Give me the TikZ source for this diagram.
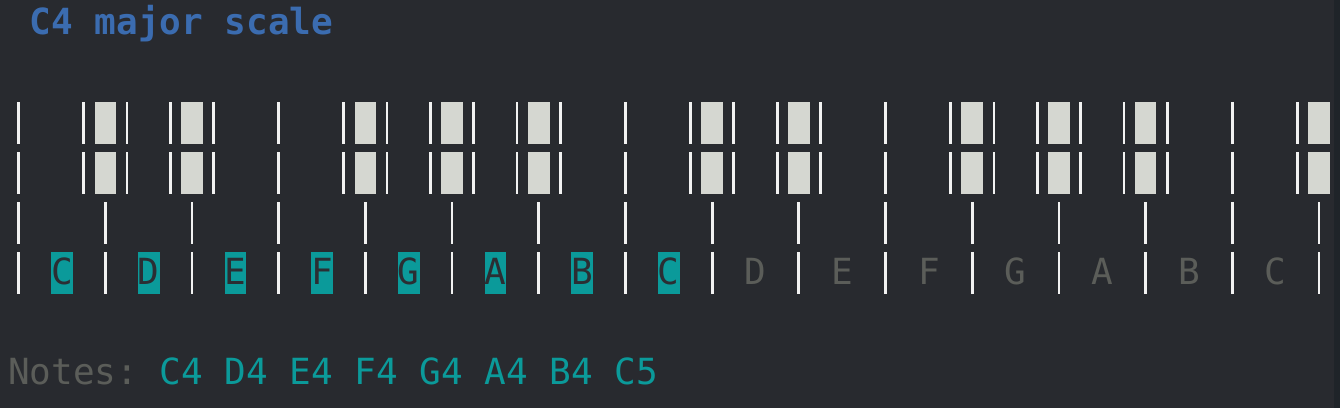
\documentclass[tikz,border=0pt]{standalone}
\usepackage{fontspec}
\setmonofont{DejaVu Sans Mono}
\definecolor{bg}{HTML}{282A2F}
\definecolor{edge}{HTML}{1F2429}
\definecolor{keyline}{HTML}{F2F2F2}
\definecolor{blackkey}{HTML}{D5D7D1}
\definecolor{hit}{HTML}{0B9A9A}
\definecolor{hittext}{HTML}{2B2E33}
\definecolor{dim}{HTML}{5B5D59}
\definecolor{titleblue}{HTML}{3B6CB0}
\tikzset{
	txt/.style={font=\ttfamily\fontsize{36}{36}\selectfont, inner sep=0},
	bar/.style={keyline, line width=2.7pt},
	on/.style={txt, fill=hit, text=hittext, minimum width=21.2pt, minimum height=42pt, text height=32pt, text depth=10pt, anchor=north},
	off/.style={txt, text=dim, text height=32pt, text depth=10pt, anchor=north}
}

\begin{document}
\begin{tikzpicture}[x=1pt,y=-1pt]
	\def\w{21.67}
	\def\o{18.7}
	\fill[bg] (0,0) rectangle (1340,408);
	\fill[edge] (1334,0) rectangle (1340,408);
	\node[txt, anchor=base west, text=titleblue, font=\ttfamily\bfseries\fontsize{36}{36}\selectfont] (title) at (29.5,34) {C4 major scale};
	% black keys, two rows
	\foreach \c in {0,3,5,7,9,12,15,17,19,21,23,25,28,31,33,35,37,40,43,45,47,49,51,53,56,59}
		\foreach \t in {102,152} \draw[bar] ({\o+\c*\w},\t) -- ++(0,42);
	\foreach \c in {4,8,16,20,24,32,36,44,48,52,60}
		\foreach \t in {102,152} \fill[blackkey] ({\o+\c*\w-\w/2},\t) rectangle ++(\w,42);
	% white keys
	\foreach \c in {0,4,...,60}
		\foreach \t in {202,252} \draw[bar] ({\o+\c*\w},\t) -- ++(0,42);
	\foreach \l [count=\i from 0] in {C,D,E,F,G,A,B,C}
		\node[on] (k\i) at ({\o+(2+4*\i)*\w},252) {\l};
	\foreach \l [count=\i from 8] in {D,E,F,G,A,B,C}
		\node[off] (k\i) at ({\o+(2+4*\i)*\w},252) {\l};
	% played notes
	\node[txt, anchor=base west, text=dim] (notes) at (7.9,384) {Notes:};
	\foreach \n [count=\i from 0] in {C4,D4,E4,F4,G4,A4,B4,C5}
		\node[txt, anchor=base west, text=hit] (n\i) at ({7.9+(7+3*\i)*\w},384) {\n};
\end{tikzpicture}
\end{document}
